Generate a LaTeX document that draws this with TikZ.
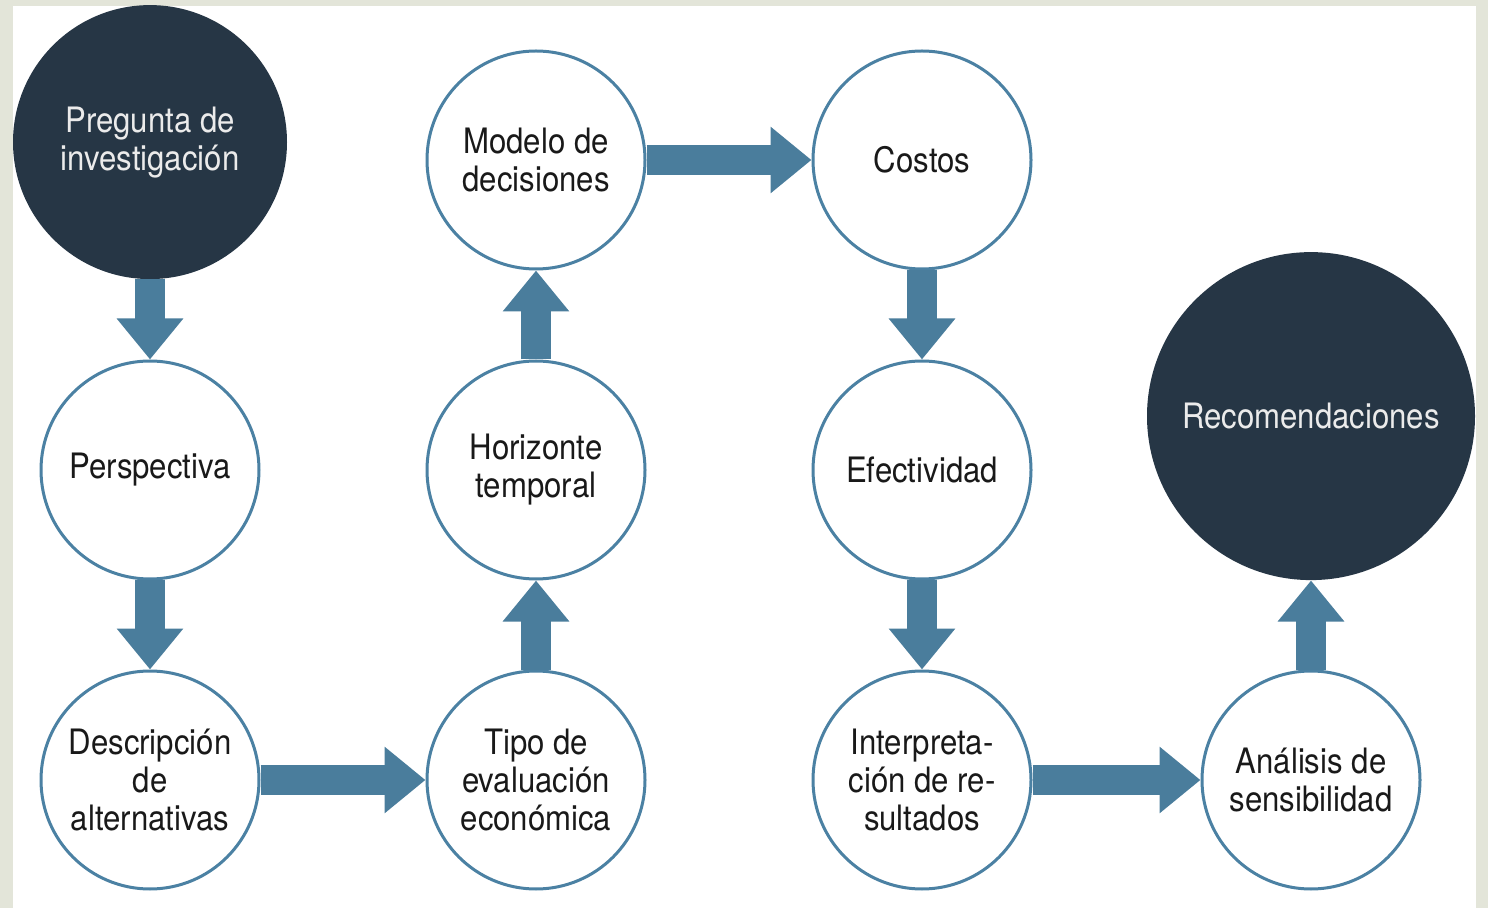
\documentclass[tikz,border=0pt]{standalone}
\usepackage{fontspec}
\setmainfont{TeX Gyre Heros}[FakeStretch=0.89]
\usetikzlibrary{positioning, arrows.meta}
\definecolor{bgframe}{HTML}{E3E5D9}
\definecolor{navy}{HTML}{263645}
\definecolor{steel}{HTML}{4A7D9C}
\definecolor{ring}{HTML}{4B81A3}
\begin{document}
\begin{tikzpicture}[x=0.5pt, y=-0.5pt]
\tikzstyle{stage}=[circle, minimum size=109pt, inner sep=0pt, line width=1.5pt, draw=ring, fill=white, text=black!90, align=center, font=\fontsize{17.5pt}{19pt}\selectfont]
\tikzstyle{goal}=[circle, inner sep=0pt, fill=navy, text=white!92!black, align=center, font=\fontsize{17.5pt}{19pt}\selectfont]
\tikzstyle{connect}=[-{Triangle[width=32pt, length=20.5pt]}, line width=15pt, draw=steel]
    % frame
    \fill[bgframe] (0,0) rectangle (1488,908);
    \fill[white] (13,6) rectangle (1476,908);
    \begin{scope}[node distance=44.5pt and 82.5pt]
    \node[stage] (desc) at (150,780) {Descripción\\de\\alternativas};
    \node[stage] (persp) [above=of desc] {Perspectiva};
    \node[goal, minimum size=137pt] (preg) [above=40pt of persp] {Pregunta de\\investigación};
    \node[stage] (tipo) [right=of desc] {Tipo de\\evaluación\\económica};
    \node[stage] (horiz) [above=of tipo] {Horizonte\\temporal};
    \node[stage] (modelo) [above=of horiz] {Modelo de\\decisiones};
    \node[stage] (costos) [right=of modelo] {Costos};
    \node[stage] (efect) [below=of costos] {Efectividad};
    \node[stage] (interp) [below=of efect] {Interpreta-\\ción de re-\\sultados};
    \node[stage] (anal) [right=84pt of interp] {Análisis de\\sensibilidad};
    \node[goal, minimum size=164pt] (recom) [above=of anal] {Recomendaciones};
    \end{scope}
    \path (preg) edge [connect] (persp)
          (persp) edge [connect] (desc)
          (desc) edge [connect] (tipo)
          (tipo) edge [connect] (horiz)
          (horiz) edge [connect] (modelo)
          (modelo) edge [connect] (costos)
          (costos) edge [connect] (efect)
          (efect) edge [connect] (interp)
          (interp) edge [connect] (anal)
          (anal) edge [connect] (recom);
\end{tikzpicture}
\end{document}
